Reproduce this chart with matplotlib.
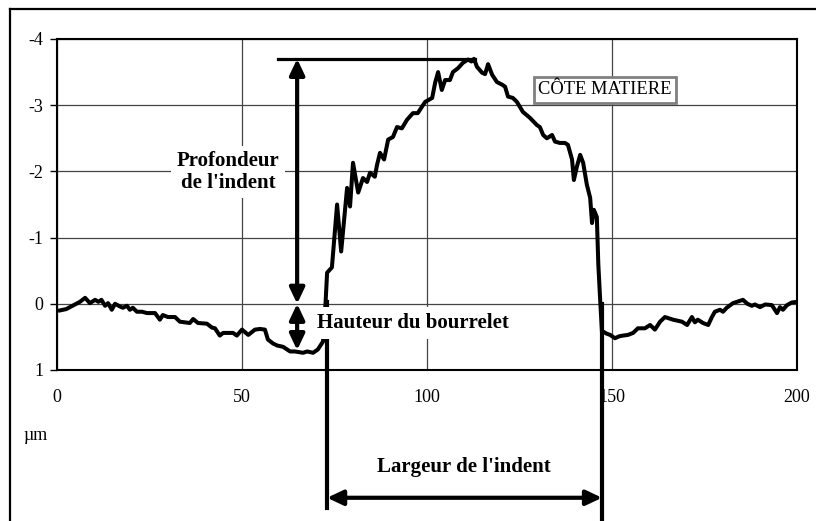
import matplotlib
matplotlib.use("Agg")
import matplotlib.pyplot as plt
from matplotlib.lines import Line2D

# profil de l'empreinte (cote matiere)
x_um = [0.8, 2.5, 4.5, 6.2, 7.6, 8.9, 10.3, 11.2, 12.0, 13.0, 13.8, 14.8, 15.7, 17.0,
        17.8, 18.9, 19.7, 20.5, 21.6, 23.0, 24.3, 26.5, 27.8, 28.6, 30.0, 31.9, 33.2,
        35.9, 36.8, 38.1, 40.5, 41.9, 42.7, 44.0, 44.9, 47.6, 48.6, 50.0, 51.7, 53.5,
        54.9, 56.2, 57.0, 58.4, 59.5, 61.1, 63.0, 64.3, 66.5, 67.6, 69.2, 70.5, 71.9,
        72.6, 73.0, 74.3, 75.7, 76.8, 78.4, 79.2, 80.0, 81.4, 82.7, 83.8, 84.6, 85.9,
        86.5, 87.3, 88.4, 89.5, 90.8, 91.9, 93.2, 94.6, 96.2, 97.5, 99.5, 101.4, 102.2,
        103.0, 104.0, 104.9, 106.2, 107.0, 108.4, 109.7, 111.1, 112.0, 112.7, 113.5,
        114.9, 115.7, 116.5, 117.6, 118.9, 120.3, 121.1, 121.9, 123.2, 124.3, 125.9,
        127.8, 129.7, 130.5, 131.4, 132.4, 133.8, 134.6, 135.9, 137.3, 138.1, 139.2,
        139.7, 140.5, 141.4, 142.2, 143.2, 144.1, 144.6, 145.1, 145.9, 146.3, 146.8,
        147.3, 147.6, 148.5, 149.5, 150.8, 152.0, 153.0, 154.3, 155.7, 157.0, 158.9,
        160.3, 161.6, 163.0, 164.3, 166.5, 168.9, 170.3, 171.6, 172.4, 173.2, 174.6,
        176.0, 177.0, 177.8, 179.2, 180.0, 181.0, 182.7, 183.8, 185.4, 186.6, 187.8,
        188.6, 190.0, 191.4, 193.2, 194.6, 195.4, 196.2, 197.3, 198.6, 200.0]
depth = [0.10, 0.08, 0.02, -0.03, -0.09, -0.01, -0.06, -0.03, -0.06, 0.03, -0.01, 0.09,
         0.00, 0.04, 0.06, 0.03, 0.09, 0.06, 0.12, 0.12, 0.14, 0.14, 0.24, 0.17, 0.20,
         0.20, 0.27, 0.29, 0.23, 0.29, 0.30, 0.36, 0.37, 0.48, 0.44, 0.44, 0.48, 0.39,
         0.47, 0.39, 0.38, 0.39, 0.54, 0.60, 0.63, 0.65, 0.72, 0.72, 0.74, 0.72, 0.74,
         0.69, 0.57,
         -0.03, -0.47, -0.55, -1.50, -0.79, -1.75, -1.47, -2.13, -1.68, -1.90, -1.84,
         -1.98, -1.92, -2.10, -2.28, -2.18, -2.48, -2.52, -2.67, -2.65, -2.78, -2.88,
         -2.88, -3.05, -3.11, -3.34, -3.50, -3.23, -3.38, -3.38, -3.50, -3.56, -3.64,
         -3.69, -3.66, -3.70, -3.58, -3.49, -3.47, -3.62, -3.46, -3.35, -3.31, -3.28,
         -3.13, -3.11, -3.05, -2.90, -2.81, -2.70, -2.67, -2.55, -2.50, -2.55, -2.45,
         -2.43, -2.43, -2.40, -2.18, -1.87, -2.07, -2.25, -2.13, -1.80, -1.60, -1.22,
         -1.42, -1.31, -0.60, -0.06,
         0.44, 0.42, 0.45, 0.47, 0.52, 0.49, 0.48, 0.47, 0.44, 0.37, 0.37, 0.32, 0.39,
         0.27, 0.20, 0.24, 0.27, 0.32, 0.20, 0.28, 0.24, 0.29, 0.32, 0.20, 0.12, 0.09,
         0.12, 0.06, -0.01, -0.03, -0.06, 0.00, 0.03, 0.01, 0.05, 0.01, 0.02, 0.14,
         0.05, 0.09, 0.02, -0.02, -0.03]

x_ticks = [0, 50, 100, 150, 200]
y_ticks = [-4, -3, -2, -1, 0, 1]
y_labels = ["-4", "-3", "-2", "-1", "0", "1"]

# cotes de l'empreinte
fond = -3.70
bourrelet = 0.70
x_fleche = 64.9
bord_gauche = 73.0
bord_droit = 147.3

plt.rcParams["font.family"] = ["Liberation Serif", "DejaVu Serif"]
plt.rcParams["axes.unicode_minus"] = False


def fleche(ax, p1, p2):
    ax.annotate("", xy=p2, xytext=p1, annotation_clip=False,
                arrowprops=dict(arrowstyle="<|-|>,head_length=0.95,head_width=0.45",
                                mutation_scale=10, lw=3, color="black",
                                shrinkA=0, shrinkB=0))


def main():
    fig = plt.figure(figsize=(8.16, 5.21), dpi=100)
    ax = fig.add_axes([57 / 816, 1 - 370 / 521, 740 / 816, 331 / 521])

    ax.plot(x_um, depth, color="black", lw=2.9, zorder=3, solid_joinstyle="round")

    ax.set_xlim(0, 200)
    ax.set_ylim(1, -4)
    ax.set_xticks(x_ticks)
    ax.set_yticks(y_ticks)
    ax.set_yticklabels(y_labels)
    ax.tick_params(axis="y", length=5, width=1, pad=5, labelsize=13)
    ax.tick_params(axis="x", length=0, pad=14, labelsize=13)
    ax.grid(True, color="#444444", lw=0.9)
    ax.set_axisbelow(True)
    for s in ax.spines.values():
        s.set_linewidth(1.5)

    # profondeur de l'indent
    ax.plot([59.7, 113.0], [fond, fond], color="black", lw=2.3, zorder=4)
    fleche(ax, (x_fleche, fond), (x_fleche, 0))
    fleche(ax, (x_fleche, 0), (x_fleche, bourrelet))

    # largeur de l'indent
    ax.plot([bord_gauche, bord_gauche], [-0.03, 3.08], color="black", lw=3,
            clip_on=False, zorder=4)
    ax.plot([bord_droit, bord_droit], [0.0, 3.4], color="black", lw=3,
            clip_on=False, zorder=4)
    fleche(ax, (bord_gauche, 2.93), (bord_droit, 2.93))

    ax.text(46.2, -1.99, "Profondeur\nde l'indent", ha="center", va="center",
            fontsize=15, fontweight="bold", linespacing=1.15, zorder=6,
            bbox=dict(boxstyle="square,pad=0.25", fc="white", ec="none"))
    ax.text(96.1, 0.29, "Hauteur du bourrelet", ha="center", va="center",
            fontsize=15, fontweight="bold", zorder=6,
            bbox=dict(boxstyle="square,pad=0.3", fc="white", ec="none"))
    ax.text(110.0, 2.46, "Largeur de l'indent", ha="center", va="center",
            fontsize=15, fontweight="bold", zorder=6)
    ax.text(148.1, -3.23, "CÔTE MATIERE", ha="center", va="center", fontsize=13.3,
            zorder=6, bbox=dict(boxstyle="square,pad=0.25", fc="white",
                                ec="#808080", lw=2))

    fig.text(23 / 816, 1 - 435 / 521, "µm", ha="left", va="center", fontsize=13)

    # cadre du graphique
    fig.add_artist(Line2D([10 / 816, 10 / 816], [0, 1 - 9 / 521], color="black", lw=1.6))
    fig.add_artist(Line2D([10 / 816, 1], [1 - 9 / 521, 1 - 9 / 521], color="black", lw=1.6))

    fig.savefig("out.png", dpi=100)


if __name__ == "__main__":
    main()
